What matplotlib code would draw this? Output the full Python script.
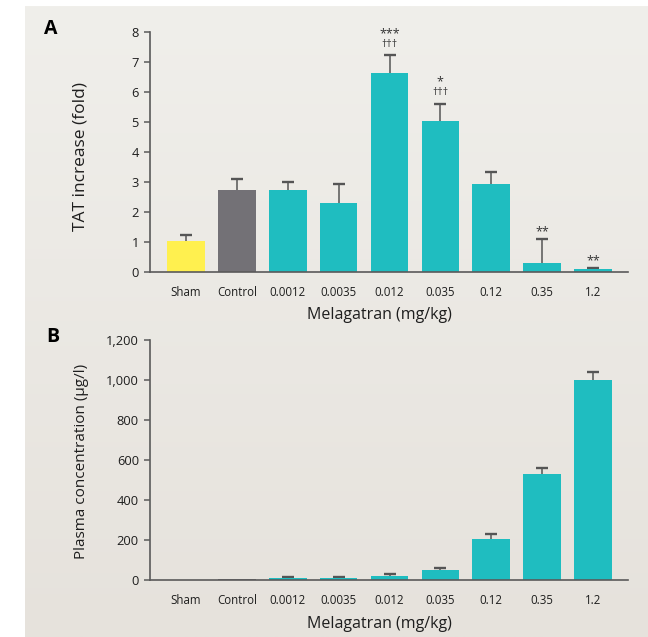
import matplotlib.pyplot as plt
import numpy as np
from matplotlib.colors import LinearSegmentedColormap

plt.rcParams['font.family'] = ['Open Sans', 'DejaVu Sans']

doses = ["Sham", "Control", "0.0012", "0.0035", "0.012", "0.035", "0.12", "0.35", "1.2"]

# panel A: TAT increase (fold)
tat = [1.02, 2.72, 2.72, 2.29, 6.62, 5.02, 2.92, 0.29, 0.09]
tat_err = [0.21, 0.36, 0.28, 0.62, 0.59, 0.58, 0.39, 0.80, 0.03]
tat_stars = ["", "", "", "", "***", "*", "", "**", "**"]
tat_dagger = ["", "", "", "", "†††", "†††", "", "", ""]

# panel B: plasma concentration (ug/l)
plasma = [0, 6, 10, 10, 20, 50, 205, 530, 1000]
plasma_err = [0, 0, 3, 3, 8, 12, 27, 32, 38]

teal = "#1fbdc0"
colors = ["#fff04f", "#737176"] + [teal] * 7
axis_col = "#5a5a5a"
txt_col = "#1e1e1e"

fig = plt.figure(figsize=(6.48, 6.37), dpi=100)
fig.patch.set_facecolor("white")

# light panel behind both charts
bg = fig.add_axes([25 / 648, 0, 1 - 25 / 648, 631 / 637], zorder=0)
grad = np.linspace(0, 1, 256).reshape(-1, 1)
cm = LinearSegmentedColormap.from_list("bg", ["#f0efeb", "#e6e2dc"])
bg.imshow(grad, aspect="auto", cmap=cm, extent=[0, 1, 0, 1], origin="upper")
bg.axis("off")

x = np.arange(len(doses))


def style(ax, ymax, step, fmt):
    ax.set_facecolor("none")
    ax.set_xlim(-0.71, 8.69)
    ax.set_ylim(0, ymax)
    ticks = np.arange(0, ymax + step / 2, step)
    ax.set_yticks(ticks)
    ax.set_yticklabels([fmt(v) for v in ticks])
    for s in ["top", "right"]:
        ax.spines[s].set_visible(False)
    for s in ["left", "bottom"]:
        ax.spines[s].set_color(axis_col)
        ax.spines[s].set_linewidth(1.2)
    ax.tick_params(axis="y", length=4, width=1.1, color=axis_col, pad=4,
                   labelsize=9.3, labelcolor=txt_col)
    ax.tick_params(axis="x", length=0, pad=10, labelsize=8.3, labelcolor=txt_col)
    ax.set_xticks(x)
    ax.set_xticklabels(doses)
    ax.set_xlabel("Melagatran (mg/kg)", fontsize=11.5, color=txt_col)
    ax.xaxis.set_label_coords(0.479, -0.148)


def upper_errors(ax, xs, ys, errs):
    eb = ax.errorbar(xs, ys, yerr=[np.zeros(len(xs)), errs], fmt="none",
                     ecolor="#555555", elinewidth=1.1, capsize=4, capthick=1.7,
                     zorder=1)
    # keep only the upper cap
    eb[1][0].set_visible(False)


axA = fig.add_axes([150 / 648, 1 - 271.7 / 637, 478 / 648, 240 / 637], zorder=1)
axA.bar(x, tat, width=0.74, color=colors, zorder=2)
upper_errors(axA, x, tat, tat_err)
style(axA, 8, 1, lambda v: "%d" % v)
axA.set_ylabel("TAT increase (fold)", fontsize=12.5, color=txt_col)
axA.yaxis.set_label_coords(-0.128, 0.479)
for i in range(len(x)):
    top = tat[i] + tat_err[i]
    if tat_dagger[i]:
        axA.text(x[i], top + 0.36, tat_dagger[i], ha="center", va="center",
                 fontsize=7.5, color="#333333")
        axA.text(x[i], top + 0.72, tat_stars[i], ha="center", va="center",
                 fontsize=9, color="#333333")
    elif tat_stars[i]:
        axA.text(x[i], top + 0.25, tat_stars[i], ha="center", va="center",
                 fontsize=9, color="#333333")

axB = fig.add_axes([150 / 648, 1 - 580 / 637, 478 / 648, 240 / 637], zorder=1)
axB.bar(x, plasma, width=0.74, color=colors, zorder=2)
upper_errors(axB, x[2:], plasma[2:], plasma_err[2:])
style(axB, 1200, 200, lambda v: "{:,}".format(int(v)))
axB.set_ylabel("Plasma concentration (µg/l)", fontsize=11, color=txt_col)
axB.yaxis.set_label_coords(-0.128, 0.494)

fig.text(44 / 648, 1 - 28.5 / 637, "A", fontsize=14, fontweight="bold", va="center")
fig.text(46 / 648, 1 - 337 / 637, "B", fontsize=14, fontweight="bold", va="center")

fig.savefig("out.png", dpi=100)
